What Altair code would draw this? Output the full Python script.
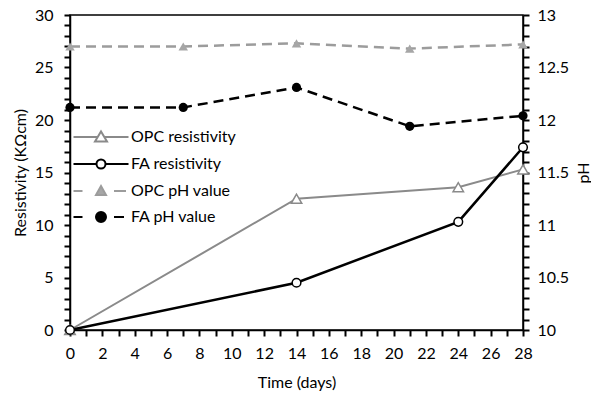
import altair as alt
import pandas as pd

# ---- data ----
days_res = [0, 14, 24, 28]
opc_res = [0.0, 12.5, 13.6, 15.3]
fa_res = [0.0, 4.5, 10.3, 17.4]

days_ph = [0, 7, 14, 21, 28]
opc_ph = [12.70, 12.70, 12.73, 12.68, 12.72]
fa_ph = [12.12, 12.12, 12.31, 11.94, 12.04]

series_names = ["OPC resistivity", "FA resistivity", "OPC pH value", "FA pH value"]

FONT = "Lato"
FS = 16
GRAY_RES = "#8a8a8a"
GRAY_PH = "#9c9c9c"
GRAY_MK = "#a6a6a6"

res_df = pd.DataFrame({
    "day": days_res * 2,
    "value": opc_res + fa_res,
    "series": [series_names[0]] * len(days_res) + [series_names[1]] * len(days_res),
})
ph_df = pd.DataFrame({
    "day": days_ph * 2,
    "ph": opc_ph + fa_ph,
    "series": [series_names[2]] * len(days_ph) + [series_names[3]] * len(days_ph),
})
legend_df = pd.DataFrame({"series": series_names})

tick_kw = dict(ticks=True, tickSize=6, tickWidth=2, tickColor="black",
               domain=True, domainColor="black", domainWidth=1.5,
               labelFlush=False, labelOverlap=False, grid=False)

x_enc = alt.X(
    "day:Q",
    scale=alt.Scale(domain=[0, 28], nice=False, zero=False),
    axis=alt.Axis(
        values=list(range(29)),
        labelExpr="datum.value % 2 == 0 ? datum.label : ''",
        title="Time (days)",
        titleY=52, titleBaseline="middle",
        labelPadding=9,
        **tick_kw,
    ),
)
y_left = alt.Y(
    "value:Q",
    scale=alt.Scale(domain=[0, 30], nice=False),
    axis=alt.Axis(
        orient="left",
        values=list(range(31)),
        labelExpr="datum.value % 5 == 0 ? datum.label : ''",
        title="Resistivity (KΩcm)",
        titleAngle=270, titleX=-50, titleY=157.5,
        titleAlign="center", titleBaseline="middle",
        labelPadding=11,
        **tick_kw,
    ),
)
y_right = alt.Y(
    "ph:Q",
    scale=alt.Scale(domain=[10, 13], nice=False, zero=False),
    axis=alt.Axis(
        orient="right",
        values=[10 + i / 10 for i in range(31)],
        labelExpr="abs(datum.value*2 - round(datum.value*2)) < 0.001 ? toString(round(datum.value*10)/10) : ''",
        title="pH",
        titleAngle=270, titleX=60, titleY=157.5,
        titleAlign="center", titleBaseline="middle",
        labelPadding=8,
        **tick_kw,
    ),
)

def sel(name):
    return alt.datum.series == name

opc_res_line = alt.Chart(res_df).transform_filter(sel(series_names[0])).mark_line(
    color=GRAY_RES, strokeWidth=2).encode(x=x_enc, y=y_left)
opc_res_pt = alt.Chart(res_df).transform_filter(sel(series_names[0])).mark_point(
    shape="triangle-up", filled=True, fill="white", stroke=GRAY_RES, strokeWidth=1.5,
    size=110, opacity=1).encode(x=x_enc, y=y_left)
fa_res_line = alt.Chart(res_df).transform_filter(sel(series_names[1])).mark_line(
    color="black", strokeWidth=2.5).encode(x=x_enc, y=y_left)
fa_res_pt = alt.Chart(res_df).transform_filter(sel(series_names[1])).mark_point(
    shape="circle", filled=True, fill="white", stroke="black", strokeWidth=1.5,
    size=75, opacity=1).encode(x=x_enc, y=y_left)

SYM_SIZE = 196
K = (SYM_SIZE ** 0.5) / 2.0

def u(px):
    return f"{px / K:.3f}"

def circle(r):
    return (f"M{u(r)},0 A{u(r)},{u(r)} 0 1,1 {u(-r)},0 "
            f"A{u(r)},{u(r)} 0 1,1 {u(r)},0 Z")

def tri(w, top, bottom):
    return f"M{u(-w/2)},{u(bottom)} L0,{u(top)} L{u(w/2)},{u(bottom)} Z"

path_opc_res = f"M{u(-27.5)},0 H{u(-3.3)} M{u(3.3)},0 H{u(27.5)} " + tri(12, -5.5, 4.5)
path_fa_res = f"M{u(-27.5)},0 H{u(-4.5)} M{u(4.5)},0 H{u(27.5)} " + circle(4.5)
path_opc_ph = f"M{u(-27.5)},0 H{u(-18.5)} M{u(13)},0 H{u(25)} " + tri(10, -5, 4)
path_fa_ph = f"M{u(-27.5)},0 H{u(-18.5)} M{u(13)},0 H{u(23)} " + circle(5)

leg = alt.Legend(
    title=None, orient="none", legendX=23, legendY=114,
    symbolSize=SYM_SIZE, symbolStrokeWidth=2, labelOffset=22,
    labelFontSize=FS, labelFont=FONT, labelColor="black",
    rowPadding=9, padding=0, symbolOpacity=1,
)
legend_layer = alt.Chart(legend_df).transform_filter("false").mark_point(
    filled=False, strokeWidth=2, opacity=1).encode(
    shape=alt.Shape("series:N", scale=alt.Scale(
        domain=series_names, range=[path_opc_res, path_fa_res, path_opc_ph, path_fa_ph]), legend=leg),
    stroke=alt.Stroke("series:N", scale=alt.Scale(
        domain=series_names, range=[GRAY_RES, "black", GRAY_PH, "black"]), legend=leg),
    fill=alt.Fill("series:N", scale=alt.Scale(
        domain=series_names, range=["white", "white", GRAY_MK, "black"]), legend=leg),
)

opc_ph_line = alt.Chart(ph_df).transform_filter(sel(series_names[2])).mark_line(
    color=GRAY_PH, strokeWidth=2.5, strokeDash=[10, 6]).encode(x=x_enc, y=y_right)
opc_ph_pt = alt.Chart(ph_df).transform_filter(sel(series_names[2])).mark_point(
    shape="triangle-up", filled=True, color=GRAY_MK, size=90, opacity=1).encode(x=x_enc, y=y_right)
fa_ph_line = alt.Chart(ph_df).transform_filter(sel(series_names[3])).mark_line(
    color="black", strokeWidth=2.5, strokeDash=[10, 6]).encode(x=x_enc, y=y_right)
fa_ph_pt = alt.Chart(ph_df).transform_filter(sel(series_names[3])).mark_point(
    shape="circle", filled=True, color="black", size=85, opacity=1).encode(x=x_enc, y=y_right)

left = alt.layer(opc_res_line, fa_res_line, opc_res_pt, fa_res_pt, legend_layer)
right = alt.layer(opc_ph_line, fa_ph_line, opc_ph_pt, fa_ph_pt)

chart = alt.layer(left, right).resolve_scale(y="independent").properties(
    width=453, height=315,
    autosize=alt.AutoSizeParams(type="none"),
    padding={"left": 70, "top": 15, "right": 68, "bottom": 64},
    background="white",
).configure_view(
    stroke="black", strokeWidth=1.5,
).configure_axis(
    labelColor="black", labelFont=FONT, labelFontSize=FS,
    titleColor="black", titleFont=FONT, titleFontSize=FS, titleFontWeight="normal",
)

chart.save("out.html", embed_options={"renderer": "svg", "actions": False})
